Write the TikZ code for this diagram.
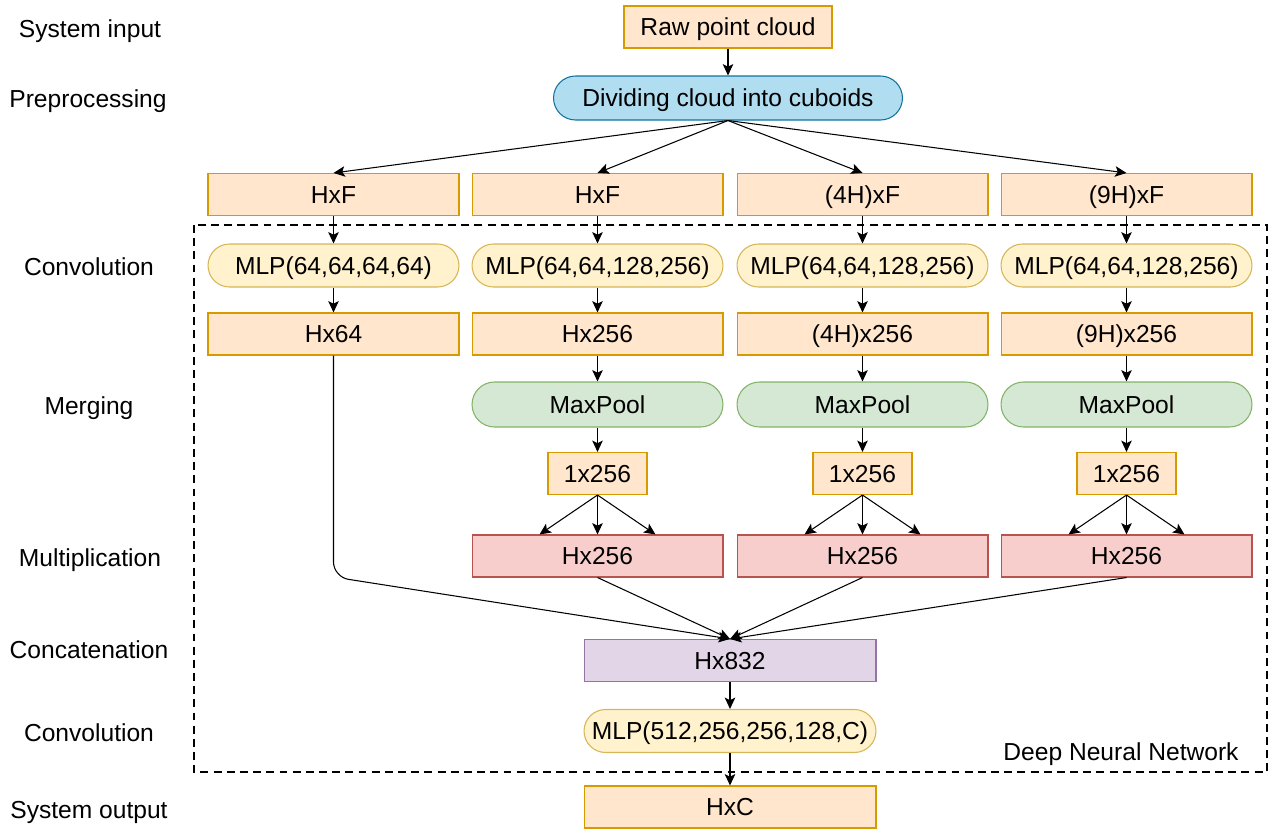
\documentclass[tikz,border=0pt]{standalone}
\usepackage{fontspec}
\setmainfont{Liberation Sans}
\usetikzlibrary{arrows.meta}

\definecolor{orfill}{HTML}{FFE6CC}
\definecolor{ordraw}{HTML}{D79B00}
\definecolor{blfill}{HTML}{B1DDF0}
\definecolor{bldraw}{HTML}{10739E}
\definecolor{yefill}{HTML}{FFF2CC}
\definecolor{yedraw}{HTML}{D6B656}
\definecolor{grfill}{HTML}{D5E8D4}
\definecolor{grdraw}{HTML}{82B366}
\definecolor{refill}{HTML}{F8CECC}
\definecolor{redraw}{HTML}{B85450}
\definecolor{pufill}{HTML}{E1D5E7}
\definecolor{pudraw}{HTML}{9673A6}

\tikzset{
  txt/.style={font=\fontsize{14}{17}\selectfont, text height=10pt, text depth=0pt},
  base/.style={txt, draw, line width=0.6pt, inner sep=0pt, minimum height=0.84cm, minimum width=5.02cm},
  featbox/.style={base, fill=orfill, draw=ordraw},
  prepill/.style={base, fill=blfill, draw=bldraw, rounded corners=0.44cm, minimum height=0.88cm},
  mlppill/.style={base, fill=yefill, draw=yedraw, rounded corners=0.43cm, minimum height=0.86cm},
  poolpill/.style={base, fill=grfill, draw=grdraw, rounded corners=0.45cm, minimum height=0.9cm},
  multbox/.style={base, fill=refill, draw=redraw},
  catbox/.style={base, fill=pufill, draw=pudraw, minimum width=5.84cm},
  arr/.style={line width=0.6pt, -{Stealth[length=6.5pt,width=6pt,inset=1.5pt]}},
}

\begin{document}
\begin{tikzpicture}[x=0.02cm, y=-0.02cm]

\useasboundingbox (0,0) rectangle (1272,829);

\node[txt] (l1) at (90,29) {System input};
\node[txt] (l2) at (88,99) {Preprocessing};
\node[txt] (l3) at (89,267) {Convolution};
\node[txt] (l4) at (89,406) {Merging};
\node[txt] (l5) at (90,558) {Multiplication};
\node[txt] (l6) at (89,650) {Concatenation};
\node[txt] (l7) at (89,733) {Convolution};
\node[txt] (l8) at (89,810) {System output};

\draw[black, dashed, line width=1.2pt, dash pattern=on 4.5pt off 3pt] (194,225) rectangle (1267,772);
\node[txt] (dnn) at (1121,752) {Deep Neural Network};

\node[featbox, minimum width=4.16cm] (raw) at (728,27) {Raw point cloud};
\node[prepill, minimum width=6.98cm] (div) at (728,98) {Dividing cloud into cuboids};

\node[featbox] (f1) at (333.5,194.5) {HxF};
\node[featbox] (f2) at (597.5,194.5) {HxF};
\node[featbox] (f3) at (862.5,194.5) {(4H)xF};
\node[featbox] (f4) at (1126.5,194.5) {(9H)xF};

\node[mlppill] (c1) at (333.5,265.5) {MLP(64,64,64,64)};
\node[mlppill] (c2) at (597.5,265.5) {MLP(64,64,128,256)};
\node[mlppill] (c3) at (862.5,265.5) {MLP(64,64,128,256)};
\node[mlppill] (c4) at (1126.5,265.5) {MLP(64,64,128,256)};

\node[featbox] (h1) at (333.5,334) {Hx64};
\node[featbox] (h2) at (597.5,334) {Hx256};
\node[featbox] (h3) at (862.5,334) {(4H)x256};
\node[featbox] (h4) at (1126.5,334) {(9H)x256};

\node[poolpill] (p2) at (597.5,404.5) {MaxPool};
\node[poolpill] (p3) at (862.5,404.5) {MaxPool};
\node[poolpill] (p4) at (1126.5,404.5) {MaxPool};

\node[featbox, minimum width=1.98cm] (g2) at (597.5,473.5) {1x256};
\node[featbox, minimum width=1.98cm] (g3) at (862.5,473.5) {1x256};
\node[featbox, minimum width=1.98cm] (g4) at (1126.5,473.5) {1x256};

\node[multbox] (r2) at (597.5,556) {Hx256};
\node[multbox] (r3) at (862.5,556) {Hx256};
\node[multbox] (r4) at (1126.5,556) {Hx256};

\node[catbox] (cat) at (730,660.5) {Hx832};
\node[mlppill, minimum width=5.84cm] (out) at (730,731) {MLP(512,256,256,128,C)};
\node[featbox, minimum width=5.84cm] (res) at (730,807) {HxC};

\coordinate (bend) at (333.5,577);

\draw[arr] (raw) -- (div);
\draw[arr] (div.south) -- (f1.north);
\draw[arr] (div.south) -- (f2.north);
\draw[arr] (div.south) -- (f3.north);
\draw[arr] (div.south) -- (f4.north);

\draw[arr] (f1) -- (c1);
\draw[arr] (f2) -- (c2);
\draw[arr] (f3) -- (c3);
\draw[arr] (f4) -- (c4);

\draw[arr] (c1) -- (h1);
\draw[arr] (c2) -- (h2);
\draw[arr] (c3) -- (h3);
\draw[arr] (c4) -- (h4);

\draw[arr] (h2) -- (p2);
\draw[arr] (h3) -- (p3);
\draw[arr] (h4) -- (p4);

\draw[arr] (p2) -- (g2);
\draw[arr] (p3) -- (g3);
\draw[arr] (p4) -- (g4);

\draw[arr] (g2.south) -- ([xshift=-1.16cm]r2.north);
\draw[arr] (g2.south) -- (r2.north);
\draw[arr] (g2.south) -- ([xshift=1.16cm]r2.north);
\draw[arr] (g3.south) -- ([xshift=-1.16cm]r3.north);
\draw[arr] (g3.south) -- (r3.north);
\draw[arr] (g3.south) -- ([xshift=1.16cm]r3.north);
\draw[arr] (g4.south) -- ([xshift=-1.16cm]r4.north);
\draw[arr] (g4.south) -- (r4.north);
\draw[arr] (g4.south) -- ([xshift=1.16cm]r4.north);

\draw[arr, rounded corners=0.3cm] (h1.south) -- (bend) -- (cat.north);
\draw[arr] (r2.south) -- (cat.north);
\draw[arr] (r3.south) -- (cat.north);
\draw[arr] (r4.south) -- (cat.north);

\draw[arr] (cat) -- (out);
\draw[arr] (out) -- (res);

\end{tikzpicture}
\end{document}
